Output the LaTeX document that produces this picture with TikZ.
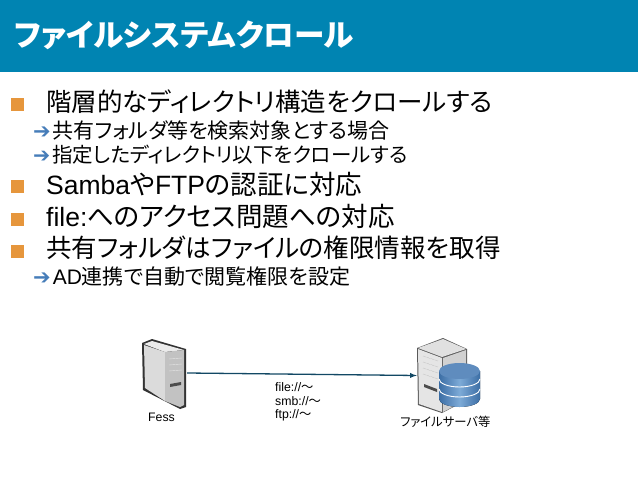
\documentclass[tikz,border=0pt]{standalone}
\usepackage{fontspec}
\setmainfont{Liberation Sans}
\newfontfamily\jpfont[RawFeature=+palt]{Noto Sans CJK JP}
\definecolor{headblue}{RGB}{0,132,178}
\definecolor{bulletorange}{RGB}{230,150,60}
\definecolor{arrowblue}{RGB}{70,125,185}
\definecolor{linkteal}{RGB}{18,72,100}
\definecolor{drumblue}{RGB}{60,110,165}
\definecolor{drumlight}{RGB}{125,170,215}
\definecolor{drumtop}{RGB}{95,140,190}
\newcommand{\subarrow}{{\fontspec{DejaVu Sans}\textcolor{arrowblue}{➔}}\hspace{2pt}}
\tikzset{
	titletext/.style={anchor=west, inner sep=0pt, text=white, font=\jpfont\bfseries\fontsize{30.6}{34}\selectfont},
	maintext/.style={anchor=west, inner sep=0pt, font=\jpfont\fontsize{26.5}{30}\selectfont},
	tightmain/.style={maintext, font=\jpfont\fontsize{25.5}{30}\selectfont},
	subtext/.style={anchor=west, inner sep=0pt, font=\jpfont\fontsize{21}{25}\selectfont},
	tightsub/.style={subtext, font=\jpfont\fontsize{20.5}{25}\selectfont},
	smalltext/.style={anchor=west, inner sep=0pt, font=\jpfont\fontsize{12.3}{14}\selectfont},
	bulletbox/.style={fill=bulletorange, inner sep=0pt, minimum size=13pt},
	iconbox/.style={inner sep=0pt},
}
\newcommand{\lat}[1]{{\rmfamily #1}}
\begin{document}
\begin{tikzpicture}[x=1pt, y=-1pt]
\useasboundingbox (0,0) rectangle (638,479);

\fill[headblue] (0,0) rectangle (638,72);
\node[titletext] (title) at (14,35) {ファイルシステムクロール};

\foreach \y in {104.5,186.5,219,251}
{
	\node[bulletbox] (bullet\y) at (17.5,\y) {};
}

\node[tightmain] (item1) at (46,102) {階層的なディレクトリ構造をクロールする};
\node[subtext] (sub1) at (33,131) {\subarrow 共有フォルダ等を検索対象とする場合};
\node[tightsub] (sub2) at (33,155) {\subarrow 指定したディレクトリ以下をクロールする};
\node[maintext] (item2) at (46,184) {\lat{Samba}や\lat{FTP}の認証に対応};
\node[maintext] (item3) at (46,216) {\lat{file:}へのアクセス問題への対応};
\node[tightmain] (item4) at (46,248) {共有フォルダはファイルの権限情報を取得};
\node[subtext] (sub3) at (33,277) {\subarrow\lat{AD}連携で自動で閲覧権限を設定};

% fess server
\fill[black!80] (142,343) -- (152,339) -- (186,349) -- (186,407) -- (180,409) -- (143,390) -- cycle;
\fill[black!14] (144,345) -- (165,352) -- (165,401) -- (145,388) -- cycle;
\fill[black!8] (144,344) -- (152,341) -- (184,350) -- (165,352) -- cycle;
\fill[black!24] (165,352) -- (184,350) -- (184,405) -- (180,407) -- (165,401) -- cycle;
\foreach \y in {359,365,371}
{
	\draw[black!10] (169,\y) -- (182,{\y-1});
}
\fill[black!70] (170,384) -- (181,382) -- (181,385) -- (170,387) -- cycle;

% file server
\fill[black!65] (417,348) -- (443,338) -- (467,349) -- (467,400) -- (442,413) -- (418,405) -- cycle;
\fill[black!10] (418,349) -- (442,358) -- (442,412) -- (419,404) -- cycle;
\fill[black!12] (418,348) -- (443,339) -- (466,349) -- (442,357) -- cycle;
\fill[black!18] (443,358) -- (466,350) -- (466,400) -- (443,412) -- cycle;
\foreach \y in {356,362,368,374}
{
	\draw[black!45, densely dotted] (423,\y) -- (438,{\y+5});
}
\fill[black!70] (424,384) -- (437,389) -- (437,392) -- (424,387) -- cycle;

% drum
\fill[left color=drumblue, right color=drumblue, middle color=drumlight] (439,371) -- (439,399) arc (180:0:20.5 and 8) -- (480,371) -- cycle;
\fill[drumtop] (459.5,371) ellipse (20.5 and 8);
\foreach \y in {379,389}
{
	\draw[white, line width=0.9pt] (439,\y) arc (180:0:20.5 and 8);
}

% invisible frames around the icons, the link runs between them
\node[iconbox, minimum width=46pt, minimum height=70pt] (fess) at (164,373) {};
\node[iconbox, minimum width=63pt, minimum height=76pt] (filesrv) at (448.5,375.5) {};
\draw[->, >=latex, linkteal, line width=1.3pt] (fess.east) -- (filesrv.west);

\node[smalltext] (fesslabel) at (148,417) {\lat{Fess}};
\node[smalltext] (srvlabel) at (400,422) {ファイルサーバ等};
\node[smalltext] (url1) at (275,387) {\lat{file://}〜};
\node[smalltext] (url2) at (275,401) {\lat{smb://}〜};
\node[smalltext] (url3) at (275,415) {\lat{ftp://}〜};
\end{tikzpicture}
\end{document}
